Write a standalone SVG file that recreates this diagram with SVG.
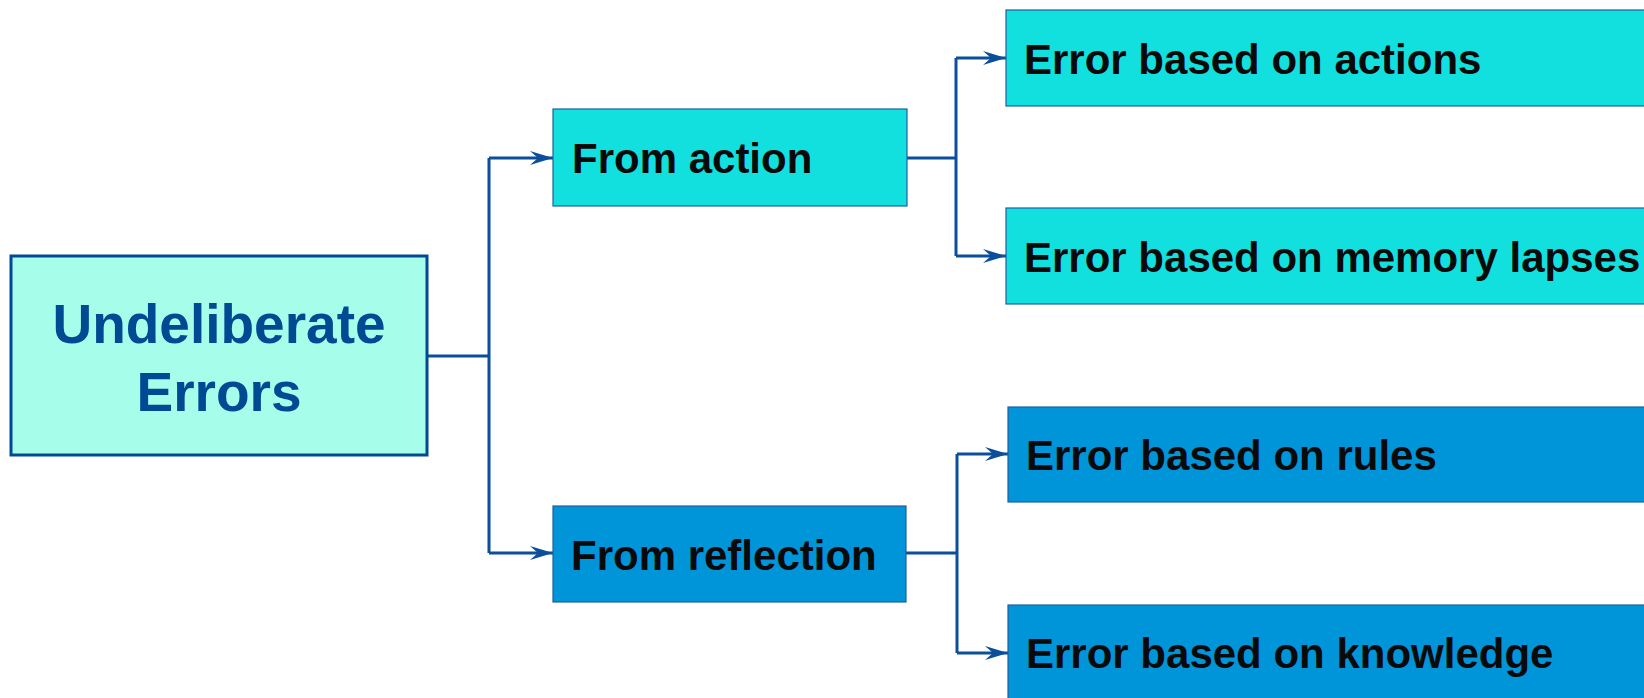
<svg xmlns="http://www.w3.org/2000/svg" width="1644" height="698" viewBox="0 0 1644 698">
<style>
.root{fill:#a6fde9;stroke:#004a94;stroke-width:3}
.act{fill:#12e0df;stroke:#1f5fa0;stroke-width:1.2}
.ref{fill:#0094d9;stroke:#1f5fa0;stroke-width:1.2}
.rt{font-family:"Liberation Sans",Arial,sans-serif;font-weight:bold;font-size:55px;fill:#004a94;text-anchor:middle}
.t{font-family:"Liberation Sans",Arial,sans-serif;font-weight:bold;font-size:42px;fill:#0a0a0a}
.c{fill:none;stroke:#0b4f9a;stroke-width:3}
</style>
<defs>
<marker id="arr" viewBox="0 0 23 14" refX="23" refY="7" markerWidth="23" markerHeight="14" markerUnits="userSpaceOnUse" orient="auto">
<path d="M0,0 L23,7 L0,14 L8,7 Z" fill="#0b4f9a"/>
</marker>
</defs>
<rect width="1644" height="698" fill="#ffffff"/>
<g id="connectors">
<path class="c" d="M427,356 H489"/>
<path class="c" d="M489,158 V553"/>
<path class="c" d="M489,158 H553" marker-end="url(#arr)"/>
<path class="c" d="M489,553 H553" marker-end="url(#arr)"/>
<path class="c" d="M907,158 H956"/>
<path class="c" d="M956,58 V256"/>
<path class="c" d="M956,58 H1006" marker-end="url(#arr)"/>
<path class="c" d="M956,256 H1006" marker-end="url(#arr)"/>
<path class="c" d="M906,553 H957"/>
<path class="c" d="M957,454 V653"/>
<path class="c" d="M957,454 H1008" marker-end="url(#arr)"/>
<path class="c" d="M957,653 H1008" marker-end="url(#arr)"/>
</g>
<g id="root">
<rect class="root" x="11" y="256" width="416" height="199"/>
<text class="rt" x="219" y="343">Undeliberate</text>
<text class="rt" x="219" y="411">Errors</text>
</g>
<g id="from-action">
<rect class="act" x="553" y="109" width="354" height="97"/>
<text class="t" x="572" y="173">From action</text>
</g>
<g id="from-reflection">
<rect class="ref" x="553" y="506" width="353" height="96"/>
<text class="t" x="571" y="570">From reflection</text>
</g>
<g id="error-actions">
<rect class="act" x="1006" y="10" width="660" height="96"/>
<text class="t" x="1024" y="74">Error based on actions</text>
</g>
<g id="error-memory">
<rect class="act" x="1006" y="208" width="660" height="96"/>
<text class="t" x="1024" y="272">Error based on memory lapses</text>
</g>
<g id="error-rules">
<rect class="ref" x="1008" y="407" width="660" height="95"/>
<text class="t" x="1026" y="470">Error based on rules</text>
</g>
<g id="error-knowledge">
<rect class="ref" x="1008" y="605" width="660" height="100"/>
<text class="t" x="1026" y="668">Error based on knowledge</text>
</g>
</svg>
